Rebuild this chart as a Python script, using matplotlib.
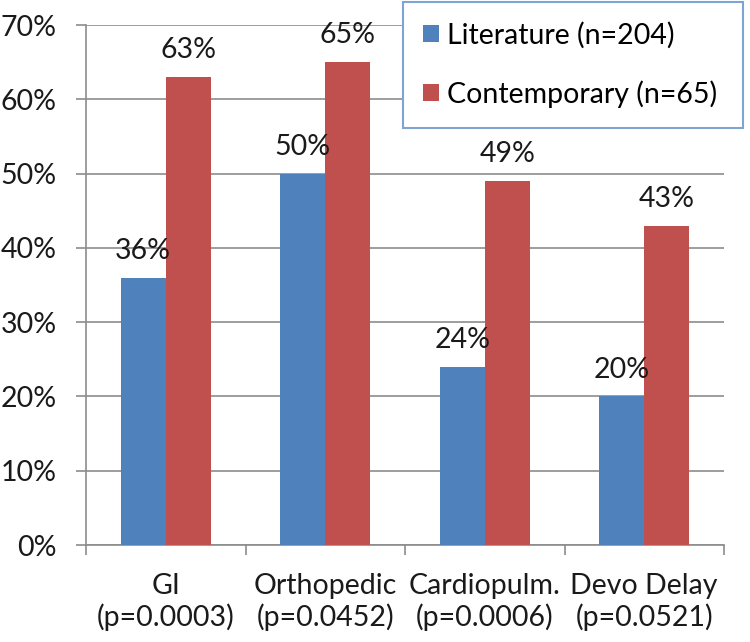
import numpy as np
import matplotlib.pyplot as plt
from matplotlib.ticker import FixedLocator

# data
categories = ['GI\n(p=0.0003)', 'Orthopedic\n(p=0.0452)', 'Cardiopulm.\n(p=0.0006)', 'Devo Delay\n(p=0.0521)']
literature = [36, 50, 24, 20]
contemporary = [63, 65, 49, 43]
series_names = ['Literature (n=204)', 'Contemporary (n=65)']
yticks = list(range(0, 80, 10))

plt.rcParams['font.family'] = ['Lato', 'DejaVu Sans']
FS = 20.5
blue = '#4F81BD'
red = '#C0504D'
grid_col = '#8C8C8C'

fig = plt.figure(figsize=(7.5, 6.42), dpi=100)
ax = fig.add_axes([86/750, 97/642, (724-86)/750, (545-25)/642])

x = np.arange(len(categories))
w = 0.283
b1 = ax.bar(x - w/2, literature, w, color=blue, label=series_names[0], zorder=3)
b2 = ax.bar(x + w/2, contemporary, w, color=red, label=series_names[1], zorder=3)

# data labels above bars
for bars, vals in ((b1, literature), (b2, contemporary)):
    for r, v in zip(bars, vals):
        ax.annotate(f'{v}%', (r.get_x() + r.get_width()/2, v), xytext=(0, 10),
                    textcoords='offset points', ha='center', va='bottom',
                    fontsize=FS, color='#1a1a1a')

ax.set_xlim(-0.5, len(categories) - 0.5)
ax.set_ylim(0, 70)
ax.set_yticks(yticks)
ax.set_yticklabels([f'{t}%' for t in yticks], fontsize=FS, color='#1a1a1a')
ax.set_xticks(x)
ax.set_xticklabels(categories, fontsize=FS, color='#1a1a1a', linespacing=1.2)
ax.xaxis.set_minor_locator(FixedLocator(np.arange(-0.5, len(categories), 1.0)))
ax.tick_params(axis='x', which='major', length=0, pad=20)
ax.tick_params(axis='x', which='minor', length=7, color=grid_col, width=1.2)
ax.tick_params(axis='y', length=7, color=grid_col, width=1.2, pad=14)

ax.grid(axis='y', color=grid_col, linewidth=1.2, zorder=0)
for s in ['top', 'right']:
    ax.spines[s].set_visible(False)
for s in ['left', 'bottom']:
    ax.spines[s].set_color(grid_col)
    ax.spines[s].set_linewidth(1.2)

leg = ax.legend(loc='upper left', bbox_to_anchor=(403/750, (642-123)/642, 340/750, 121/642),
                bbox_transform=fig.transFigure, mode='expand', borderaxespad=0, fontsize=FS,
                fancybox=False, handlelength=0.55, handleheight=0.55, handletextpad=0.3,
                labelspacing=1.1, borderpad=0.7, framealpha=1)
leg.get_frame().set_edgecolor('#7FA3D4')
leg.get_frame().set_linewidth(1.5)

fig.savefig('out.png', dpi=100)
